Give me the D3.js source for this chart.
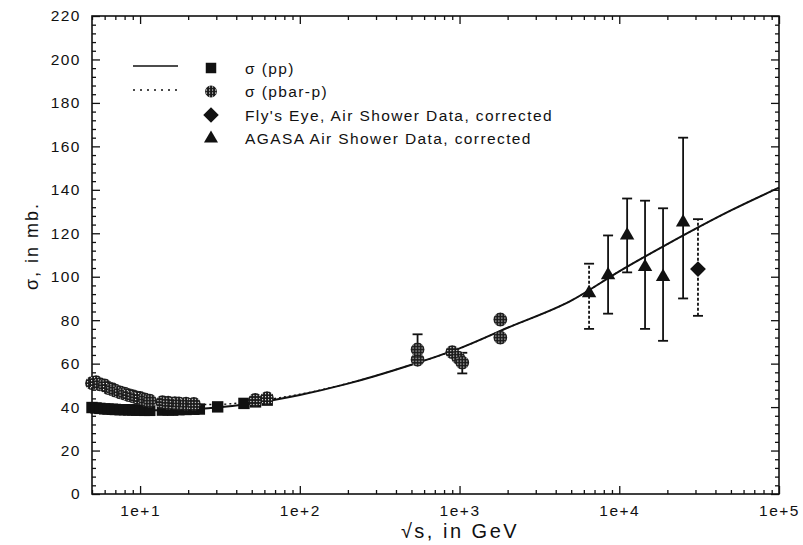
<!DOCTYPE html>
<html>
<head>
<meta charset="utf-8">
<script src="https://cdn.jsdelivr.net/npm/d3@7"></script>
<style>
  body { margin: 0; background: #fff; }
  svg { display: block; font-family: "Liberation Sans", Arial, sans-serif; }
  .tick text { font-size: 15.5px; fill: #111; letter-spacing: 1.5px; }
  .tick line { stroke: #111; stroke-width: 1.3; }
</style>
</head>
<body>
<div id="chart"></div>
<script>
// sqrt(s) in GeV, sigma in mb
const ppData = [
  [5.0, 39.8], [5.3, 39.6], [5.6, 39.4], [6.0, 39.2], [6.3, 39.1], [6.7, 39.0],
  [7.0, 38.9], [7.5, 38.8], [8.0, 38.8], [8.5, 38.7], [9.0, 38.7], [9.5, 38.6],
  [10.0, 38.6], [10.7, 38.5], [11.5, 38.5], [13.8, 38.6], [15.0, 38.7], [16.0, 38.6],
  [17.5, 38.8], [19.4, 38.9], [21.7, 39.0], [23.5, 39.1], [30.6, 40.1], [44.7, 41.7],
  [52.8, 42.4], [62.5, 43.2]
];
const pbarpData = [
  [5.0, 51.0], [5.3, 51.5], [5.6, 50.5], [6.0, 50.0], [6.3, 48.8], [6.7, 48.2],
  [7.0, 47.6], [7.5, 46.8], [8.0, 46.2], [8.5, 45.5], [9.0, 45.0], [9.5, 44.5],
  [10.0, 44.2], [10.7, 43.5], [11.5, 43.0], [13.8, 42.3], [15.0, 42.0], [16.5, 41.8],
  [17.5, 41.7], [19.4, 41.6], [21.7, 41.5], [52.6, 43.3], [62.3, 44.1],
  [546, 61.8], [546, 66.5], [900, 65.3], [980, 62.8], [1040, 60.5],
  [1800, 72.0], [1800, 80.3]
];
// error bars on p-pbar points: [sqrt(s), low, high]
const pbarpErrors = [[546, 62, 73.5], [1040, 55.5, 65]];

// AGASA: [sqrt(s), sigma, low, high]
const agasaData = [
  [6470, 92.5, 76, 106], [8510, 100.8, 83, 119], [11200, 119, 102, 136],
  [14500, 104.5, 76, 135], [18800, 100, 70.5, 131.5], [25100, 125, 90, 164]
];
const agasaDotted = [true, false, false, false, false, false];
const flysEyeData = [[31100, 103.5, 82, 126.5]];

// fitted curves
const ppCurve = [
  [5, 40.3], [7, 39.3], [10, 38.7], [15, 38.5], [20, 38.8], [30, 39.8], [50, 41.7],
  [100, 45.6], [200, 50.8], [500, 59.5], [1000, 67], [2000, 76.5], [5000, 89],
  [10000, 102.5], [20000, 115], [50000, 130.5], [100000, 141]
];
const pbarpCurve = [
  [5, 51], [7, 47.5], [10, 44.2], [15, 42.2], [20, 41.3], [30, 41.2], [50, 42.6],
  [100, 45.9], [200, 50.9], [500, 59.5], [1000, 67], [2000, 76.5], [5000, 89],
  [10000, 102.5], [20000, 115], [50000, 130.5], [100000, 141]
];

const xMajor = [10, 100, 1000, 10000, 100000];
const yMajor = d3.range(0, 221, 20);
const legendItems = ["σ (pp)", "σ (pbar-p)", "Fly's Eye, Air Shower Data, corrected", "AGASA Air Shower Data, corrected"];

const W = 803, H = 545;
const plot = { left: 92, right: 779, top: 16, bottom: 494 };

const svg = d3.select("#chart").append("svg")
  .attr("width", W).attr("height", H);

const defs = svg.append("defs");
const pat = defs.append("pattern")
  .attr("id", "hatch").attr("patternUnits", "userSpaceOnUse")
  .attr("width", 3).attr("height", 3);
pat.append("rect").attr("width", 3).attr("height", 3).attr("fill", "#1a1a1a");
pat.append("rect").attr("x", 1).attr("y", 1).attr("width", 1.1).attr("height", 1.1).attr("fill", "#fff");

const x = d3.scaleLog().domain([5, 100000]).range([plot.left, plot.right]);
const y = d3.scaleLinear().domain([0, 220]).range([plot.bottom, plot.top]);

// minor ticks
const xMinor = [];
[1, 10, 100, 1000, 10000].forEach(dec => {
  for (let k = 2; k <= 9; k++) {
    const v = dec * k;
    if (v >= 5 && v <= 100000) xMinor.push(v);
  }
});
const yMinor = d3.range(0, 221, 4).filter(v => v % 20 !== 0);

const fmt = d => "1e+" + Math.round(Math.log10(d));

function addAxis(gen, transform) {
  const g = svg.append("g").attr("transform", transform).call(gen);
  g.select(".domain").remove();
  return g;
}

addAxis(d3.axisBottom(x).tickValues(xMajor).tickSize(-8).tickPadding(11).tickFormat(fmt), `translate(0,${plot.bottom})`);
addAxis(d3.axisBottom(x).tickValues(xMinor).tickSize(-4).tickFormat(""), `translate(0,${plot.bottom})`);
addAxis(d3.axisTop(x).tickValues(xMajor).tickSize(-8).tickFormat(""), `translate(0,${plot.top})`);
addAxis(d3.axisTop(x).tickValues(xMinor).tickSize(-4).tickFormat(""), `translate(0,${plot.top})`);
addAxis(d3.axisLeft(y).tickValues(yMajor).tickSize(-8).tickPadding(11), `translate(${plot.left},0)`);
addAxis(d3.axisLeft(y).tickValues(yMinor).tickSize(-4).tickFormat(""), `translate(${plot.left},0)`);
addAxis(d3.axisRight(y).tickValues(yMajor).tickSize(-8).tickFormat(""), `translate(${plot.right},0)`);
addAxis(d3.axisRight(y).tickValues(yMinor).tickSize(-4).tickFormat(""), `translate(${plot.right},0)`);

svg.append("rect")
  .attr("x", plot.left).attr("y", plot.top)
  .attr("width", plot.right - plot.left).attr("height", plot.bottom - plot.top)
  .attr("fill", "none").attr("stroke", "#111").attr("stroke-width", 1.6);

// axis titles
svg.append("text")
  .attr("x", 460).attr("y", 538)
  .attr("text-anchor", "middle").attr("font-size", 20).attr("letter-spacing", "2.5px").attr("fill", "#111")
  .text("√s, in GeV");
svg.append("text")
  .attr("transform", "translate(38,246) rotate(-90)")
  .attr("text-anchor", "middle").attr("font-size", 18).attr("letter-spacing", "2px").attr("fill", "#111")
  .text("σ, in mb.");

const chart = svg.append("g");

// curves
const line = d3.line().x(d => x(d[0])).y(d => y(d[1])).curve(d3.curveMonotoneX);
chart.append("path").datum(pbarpCurve).attr("d", line)
  .attr("fill", "none").attr("stroke", "#111").attr("stroke-width", 1.4)
  .attr("stroke-dasharray", "2,3");
chart.append("path").datum(ppCurve).attr("d", line)
  .attr("fill", "none").attr("stroke", "#111").attr("stroke-width", 2);

// error bars
function errorBar(sx, lo, hi, dotted) {
  const g = chart.append("g").attr("stroke", "#111").attr("stroke-width", 1.8);
  const dash = dotted ? "3,2" : null;
  g.append("line").attr("x1", x(sx)).attr("x2", x(sx)).attr("y1", y(lo)).attr("y2", y(hi))
    .attr("stroke-dasharray", dash);
  [lo, hi].forEach(v => {
    g.append("line").attr("x1", x(sx) - 5).attr("x2", x(sx) + 5)
      .attr("y1", y(v)).attr("y2", y(v));
  });
}
pbarpErrors.forEach(d => errorBar(d[0], d[1], d[2], false));
agasaData.forEach((d, i) => errorBar(d[0], d[2], d[3], agasaDotted[i]));
flysEyeData.forEach(d => errorBar(d[0], d[2], d[3], true));

// markers
const sym = (type, size) => d3.symbol().type(type).size(size);
chart.selectAll(".pp").data(ppData).join("path")
  .attr("transform", d => `translate(${x(d[0])},${y(d[1])})`)
  .attr("d", sym(d3.symbolSquare, 130)).attr("fill", "#111");
chart.selectAll(".pbar").data(pbarpData).join("path")
  .attr("transform", d => `translate(${x(d[0])},${y(d[1])})`)
  .attr("d", sym(d3.symbolCircle, 150)).attr("fill", "url(#hatch)");
chart.selectAll(".agasa").data(agasaData).join("path")
  .attr("transform", d => `translate(${x(d[0])},${y(d[1])})`)
  .attr("d", sym(d3.symbolTriangle, 90)).attr("fill", "#111");
chart.selectAll(".fly").data(flysEyeData).join("path")
  .attr("transform", d => `translate(${x(d[0])},${y(d[1])}) rotate(45)`)
  .attr("d", sym(d3.symbolSquare, 125)).attr("fill", "#111");

// legend
const leg = svg.append("g");
leg.append("line").attr("x1", 133).attr("x2", 178).attr("y1", 66).attr("y2", 66)
  .attr("stroke", "#111").attr("stroke-width", 1.6);
leg.append("line").attr("x1", 133).attr("x2", 178).attr("y1", 90).attr("y2", 90)
  .attr("stroke", "#111").attr("stroke-width", 1.3).attr("stroke-dasharray", "2,5");
const legSyms = [
  { type: d3.symbolSquare, size: 110, fill: "#111", rot: 0 },
  { type: d3.symbolCircle, size: 110, fill: "url(#hatch)", rot: 0 },
  { type: d3.symbolSquare, size: 120, fill: "#111", rot: 45 },
  { type: d3.symbolTriangle, size: 85, fill: "#111", rot: 0 }
];
legendItems.forEach((t, i) => {
  const yy = 68 + i * 23.5;
  const s = legSyms[i];
  leg.append("path").attr("transform", `translate(211,${yy}) rotate(${s.rot})`)
    .attr("d", sym(s.type, s.size)).attr("fill", s.fill);
  leg.append("text").attr("x", 245).attr("y", yy + 5.5)
    .attr("font-size", 15.5).attr("letter-spacing", "1.4px").attr("fill", "#111").text(t);
});
</script>
</body>
</html>
